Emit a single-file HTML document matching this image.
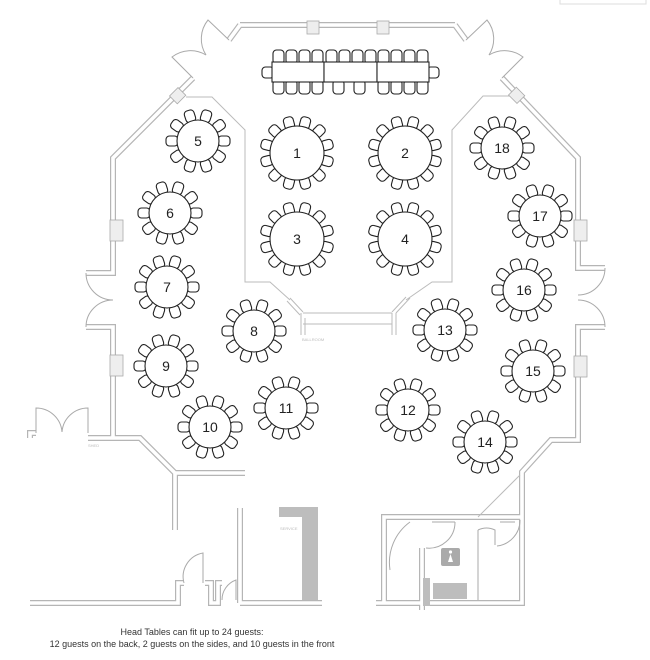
<!DOCTYPE html>
<html><head><meta charset="utf-8"><style>
html,body{margin:0;padding:0;background:#fff;width:650px;height:660px;overflow:hidden}
svg{display:block}
.n{font-family:"Liberation Sans",sans-serif;font-size:14px;fill:#222;text-anchor:middle;dominant-baseline:central}
.s{font-family:"Liberation Sans",sans-serif;font-size:4px;fill:#bbb}
</style></head><body>
<svg width="650" height="660" viewBox="0 0 650 660" xmlns="http://www.w3.org/2000/svg">
<defs>
<path id="walls" d="M240,25 H455 M240,25 L229,40 M455,25 L466,40
M193,78 L113,158 V273 H86 M86,327 H113 V438 H140 L175,473 H245 M175,473 V530
M30,438 V433 H36 M88,438 H113
M30,603 H178 V583 H184 M205,583 H211 V603 H218 V583 H222 M240,603 H322 M240,508 V603
M502,78 L578,158 V268 H605 M605,327 H578 V440 H551 L522,472 V603 H384 V517 H522
M384,603 H376 M422,548 V610"/>
<g id="c10">
<rect x="-5" y="-32" width="10" height="12" rx="3.5" transform="rotate(18)"/>
<rect x="-5" y="-32" width="10" height="12" rx="3.5" transform="rotate(54)"/>
<rect x="-5" y="-32" width="10" height="12" rx="3.5" transform="rotate(90)"/>
<rect x="-5" y="-32" width="10" height="12" rx="3.5" transform="rotate(126)"/>
<rect x="-5" y="-32" width="10" height="12" rx="3.5" transform="rotate(162)"/>
<rect x="-5" y="-32" width="10" height="12" rx="3.5" transform="rotate(198)"/>
<rect x="-5" y="-32" width="10" height="12" rx="3.5" transform="rotate(234)"/>
<rect x="-5" y="-32" width="10" height="12" rx="3.5" transform="rotate(270)"/>
<rect x="-5" y="-32" width="10" height="12" rx="3.5" transform="rotate(306)"/>
<rect x="-5" y="-32" width="10" height="12" rx="3.5" transform="rotate(342)"/>
<circle r="21"/>
</g>
<g id="c12">
<rect x="-5" y="-37" width="10" height="12" rx="3.5" transform="rotate(15)"/>
<rect x="-5" y="-37" width="10" height="12" rx="3.5" transform="rotate(45)"/>
<rect x="-5" y="-37" width="10" height="12" rx="3.5" transform="rotate(75)"/>
<rect x="-5" y="-37" width="10" height="12" rx="3.5" transform="rotate(105)"/>
<rect x="-5" y="-37" width="10" height="12" rx="3.5" transform="rotate(135)"/>
<rect x="-5" y="-37" width="10" height="12" rx="3.5" transform="rotate(165)"/>
<rect x="-5" y="-37" width="10" height="12" rx="3.5" transform="rotate(195)"/>
<rect x="-5" y="-37" width="10" height="12" rx="3.5" transform="rotate(225)"/>
<rect x="-5" y="-37" width="10" height="12" rx="3.5" transform="rotate(255)"/>
<rect x="-5" y="-37" width="10" height="12" rx="3.5" transform="rotate(285)"/>
<rect x="-5" y="-37" width="10" height="12" rx="3.5" transform="rotate(315)"/>
<rect x="-5" y="-37" width="10" height="12" rx="3.5" transform="rotate(345)"/>
<circle r="27"/>
</g>
</defs>

<rect x="560" y="-2" width="86" height="6" fill="none" stroke="#ddd" stroke-width="1"/>

<g fill="none" stroke-linejoin="miter">
<use href="#walls" stroke="#b5b5b5" stroke-width="6"/>
<use href="#walls" stroke="#fff" stroke-width="3.6"/>
</g>

<g fill="none" stroke="#bbb" stroke-width="1">
<path d="M290,298 L303,312 M287,301 L300,315 M303,313 H392 M303,324 H392 M301,313 V335 M305,318 V335 M392,313 V335 M396,313 V335 M396,313 L410,298 M392,312 L406,297"/>
<path d="M186,97 H212 L245,130 V282 H270 L290,300 M515,96 H483 L452,130 V282 H432 L406,300"/>
</g>
<text class="s" x="302" y="341">BALLROOM</text>
<text class="s" x="88" y="447">SHED</text>
<text class="s" x="280" y="530">SERVICE</text>

<g fill="#eee" stroke="#aaa" stroke-width="0.8">
<rect x="307" y="21" width="12" height="13"/>
<rect x="377" y="21" width="12" height="13"/>
<rect x="110" y="220" width="13" height="21"/>
<rect x="110" y="355" width="13" height="21"/>
<rect x="574" y="220" width="13" height="21"/>
<rect x="574" y="356" width="13" height="21"/>
<rect x="172" y="90" width="11" height="12" transform="rotate(45 178 96)"/>
<rect x="511" y="89" width="11" height="12" transform="rotate(-45 517 95)"/>
</g>

<g fill="none" stroke="#aaa" stroke-width="1">
<path d="M229,40 L208,20 A30,30 0 0 0 206,55 A30,30 0 0 0 172,57 L193,78"/>
<path d="M466,40 L487,20 A30,30 0 0 1 489,55 A30,30 0 0 1 523,57 L502,78"/>
<path d="M86,273 A27,27 0 0 0 113,300 M113,300 A27,27 0 0 0 86,327"/>
<path d="M605,268 A27,27 0 0 1 578,295 M578,300 A27,27 0 0 1 605,327"/>
<path d="M36,433 V408 A26,26 0 0 1 62,432 A26,26 0 0 1 88,408 V433"/>
<path d="M184,583 A24,24 0 0 1 203,553 V583 M222,600 A21,21 0 0 1 236,580 V600"/>
<path d="M390,570 A50,50 0 0 1 410,522 M426,548 A26,26 0 0 0 455,522 M432,522 H455 M497,546 A26,26 0 0 0 520,520 M478,530 V600 M478,530 A20,20 0 0 1 495,530 V545 M500,522 H515"/>
<path d="M478,517 L520,475" stroke="#bbb"/>
</g>

<g fill="#bdbdbd">
<path d="M279,507 H318 V600 H302 V517 H279 Z"/>
<rect x="423" y="578" width="7" height="28"/>
<rect x="433" y="583" width="34" height="16"/>
<rect x="441" y="548" width="19" height="18" rx="2" fill="#aaa"/>
</g>
<g fill="#fff"><circle cx="450.5" cy="552" r="1.6"/><path d="M448,562 L450.5,554 L453,562 Z"/></g>

<g fill="#fff" stroke="#222" stroke-width="1.1">
<rect x="262" y="67" width="12" height="11" rx="3.5"/>
<rect x="427" y="67" width="12" height="11" rx="3.5"/>
<rect x="273" y="50" width="11" height="14" rx="3.5"/>
<rect x="286" y="50" width="11" height="14" rx="3.5"/>
<rect x="299" y="50" width="11" height="14" rx="3.5"/>
<rect x="312" y="50" width="11" height="14" rx="3.5"/>
<rect x="326" y="50" width="11" height="14" rx="3.5"/>
<rect x="339" y="50" width="11" height="14" rx="3.5"/>
<rect x="352" y="50" width="11" height="14" rx="3.5"/>
<rect x="365" y="50" width="11" height="14" rx="3.5"/>
<rect x="378" y="50" width="11" height="14" rx="3.5"/>
<rect x="391" y="50" width="11" height="14" rx="3.5"/>
<rect x="404" y="50" width="11" height="14" rx="3.5"/>
<rect x="417" y="50" width="11" height="14" rx="3.5"/>
<rect x="273" y="80" width="11" height="14" rx="3.5"/>
<rect x="286" y="80" width="11" height="14" rx="3.5"/>
<rect x="299" y="80" width="11" height="14" rx="3.5"/>
<rect x="312" y="80" width="11" height="14" rx="3.5"/>
<rect x="333" y="80" width="11" height="14" rx="3.5"/>
<rect x="354" y="80" width="11" height="14" rx="3.5"/>
<rect x="378" y="80" width="11" height="14" rx="3.5"/>
<rect x="391" y="80" width="11" height="14" rx="3.5"/>
<rect x="404" y="80" width="11" height="14" rx="3.5"/>
<rect x="417" y="80" width="11" height="14" rx="3.5"/>
<rect x="272" y="62" width="52" height="20"/>
<rect x="324" y="62" width="53" height="20"/>
<rect x="377" y="62" width="52" height="20"/>
</g>

<g fill="#fff" stroke="#222" stroke-width="1.1">
<use href="#c12" x="297" y="153"/>
<use href="#c12" x="405" y="153"/>
<use href="#c12" x="297" y="239"/>
<use href="#c12" x="405" y="239"/>
<use href="#c10" x="198" y="141"/>
<use href="#c10" x="170" y="213"/>
<use href="#c10" x="167" y="287"/>
<use href="#c10" x="254" y="331"/>
<use href="#c10" x="166" y="366"/>
<use href="#c10" x="210" y="427"/>
<use href="#c10" x="286" y="408"/>
<use href="#c10" x="408" y="410"/>
<use href="#c10" x="445" y="330"/>
<use href="#c10" x="485" y="442"/>
<use href="#c10" x="533" y="371"/>
<use href="#c10" x="524" y="290"/>
<use href="#c10" x="540" y="216"/>
<use href="#c10" x="502" y="148"/>
</g>
<text class="n" x="297" y="153">1</text>
<text class="n" x="405" y="153">2</text>
<text class="n" x="297" y="239">3</text>
<text class="n" x="405" y="239">4</text>
<text class="n" x="198" y="141">5</text>
<text class="n" x="170" y="213">6</text>
<text class="n" x="167" y="287">7</text>
<text class="n" x="254" y="331">8</text>
<text class="n" x="166" y="366">9</text>
<text class="n" x="210" y="427">10</text>
<text class="n" x="286" y="408">11</text>
<text class="n" x="408" y="410">12</text>
<text class="n" x="445" y="330">13</text>
<text class="n" x="485" y="442">14</text>
<text class="n" x="533" y="371">15</text>
<text class="n" x="524" y="290">16</text>
<text class="n" x="540" y="216">17</text>
<text class="n" x="502" y="148">18</text>

<text x="192" y="635" font-family="Liberation Sans, sans-serif" font-size="9" fill="#333" text-anchor="middle">Head Tables can fit up to 24 guests:</text>
<text x="192" y="647" font-family="Liberation Sans, sans-serif" font-size="9" fill="#333" text-anchor="middle">12 guests on the back, 2 guests on the sides, and 10 guests in the front</text>
</svg>
</body></html>
